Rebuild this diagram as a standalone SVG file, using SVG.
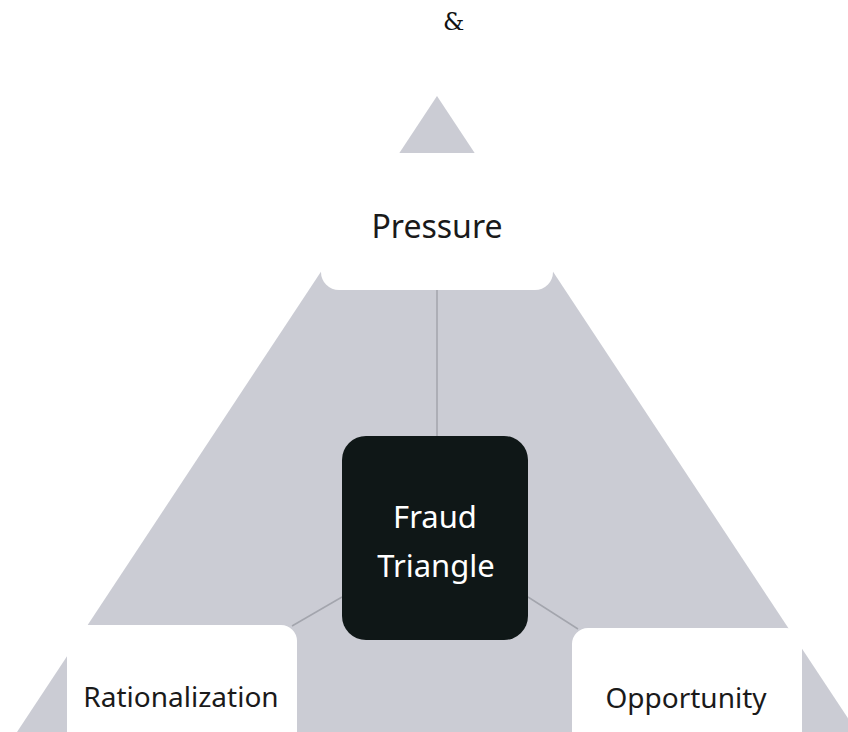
<svg xmlns="http://www.w3.org/2000/svg" width="848" height="732" viewBox="0 0 848 732">
<style>
.lbl{font-family:"Noto Sans","Open Sans","DejaVu Sans",sans-serif;fill:#1a1a1a;text-anchor:middle}
.wbox{fill:#ffffff}
.conn{stroke:#a3a5ad;stroke-width:1.5;fill:none}
</style>
<rect width="848" height="732" fill="#ffffff"/>
<text x="443" y="30" font-family="DejaVu Serif,serif" font-size="24" fill="#111">&amp;</text>
<polygon id="triangle" points="437,96 17,732 857,732" fill="#cbccd4"/>
<g id="connectors">
<line class="conn" x1="437" y1="290" x2="437" y2="436"/>
<line class="conn" x1="292" y1="626" x2="342" y2="597"/>
<line class="conn" x1="528" y1="597" x2="578" y2="629"/>
</g>
<g id="pressure">
<rect class="wbox" x="321" y="153" width="232" height="137" rx="18"/>
<text class="lbl" x="437" y="238" font-size="32">Pressure</text>
</g>
<g id="fraud">
<rect x="342" y="436" width="186" height="204" rx="24" fill="#0f1717"/>
<text class="lbl" x="435" y="528" font-size="31" style="fill:#ffffff">Fraud</text>
<text class="lbl" x="436" y="577" font-size="31" style="fill:#ffffff">Triangle</text>
</g>
<g id="rationalization">
<rect class="wbox" x="67" y="625" width="230" height="140" rx="16"/>
<text class="lbl" x="181" y="707" font-size="28">Rationalization</text>
</g>
<g id="opportunity">
<rect class="wbox" x="572" y="628" width="230" height="140" rx="16"/>
<text class="lbl" x="686" y="708" font-size="28">Opportunity</text>
</g>
</svg>
